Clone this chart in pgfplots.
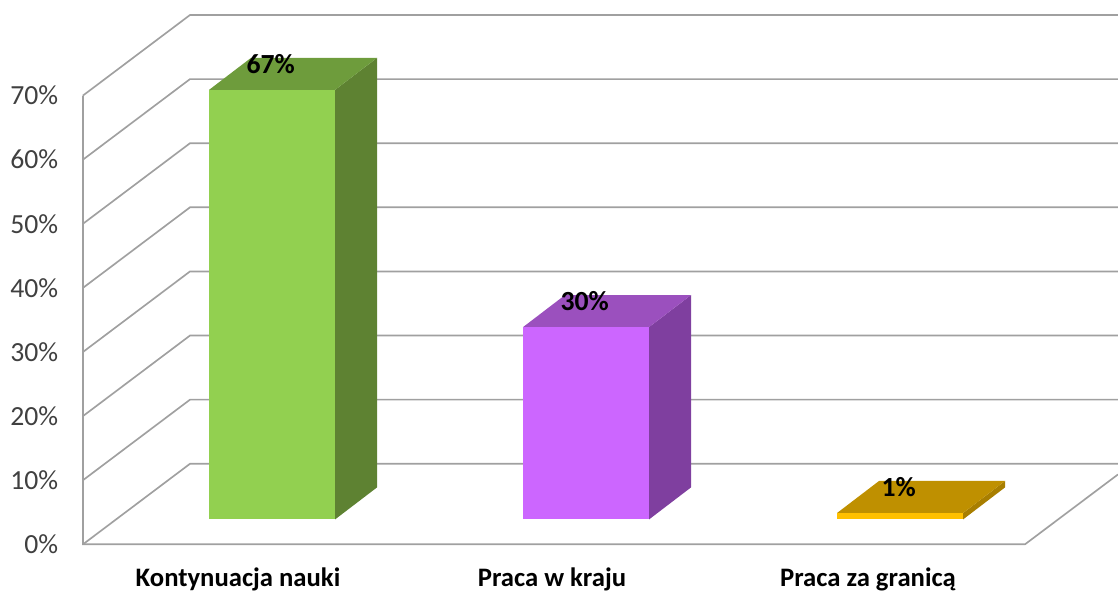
\documentclass[border=0pt]{standalone}
\usepackage{fontspec}
\setmainfont{Carlito}
\usepackage{pgfplots}
\pgfplotsset{compat=1.18}
\definecolor{gridg}{HTML}{A0A0A0}
\definecolor{greenF}{HTML}{92D050}
\definecolor{greenT}{HTML}{6E9C3C}
\definecolor{greenS}{HTML}{5E8232}
\definecolor{purpF}{HTML}{CC66FF}
\definecolor{purpT}{HTML}{9B50BE}
\definecolor{purpS}{HTML}{7F3F9F}
\definecolor{goldF}{HTML}{FFC000}
\definecolor{goldT}{HTML}{BF9000}
\definecolor{goldS}{HTML}{A87E00}
% 1 px of the reference = 0.6pt, x axis runs in px, y axis in percent
\pgfplotsset{
  wall/.style={draw=gridg, line width=1pt, no marks},
  face/.style={fill=#1, draw=none, no marks, yshift=14.9pt},
  front/.style={ybar, bar shift=0pt, bar width=75.6pt, fill=#1, draw=none, yshift=14.9pt,
    nodes near coords={\pgfmathprintnumber[assume math mode=true]{\pgfplotspointmeta}\%},
    every node near coord/.style={anchor=center, xshift=-0.8pt, yshift=15.6pt, black,
      font=\fontsize{16.6}{19}\selectfont\bfseries}},
}
\begin{document}
\begin{tikzpicture}
\useasboundingbox (-49.8pt,-28.62pt) rectangle (621pt,326.58pt);
\begin{axis}[
    scale only axis, width=621pt, height=326.58pt,
    xmin=83, xmax=1118, ymin=0, ymax=84.9,
    clip=false,
    axis line style={draw=none},
    tick style={draw=none},
    xtick={238,552,868},
    xticklabels={Kontynuacja nauki, Praca w kraju, Praca za granicą},
    xticklabel style={font=\fontsize{16}{18}\selectfont\bfseries, black, yshift=-10.6pt},
    ytick={0,10,...,70},
    yticklabel={\pgfmathprintnumber[assume math mode=true]{\tick}\%},
    yticklabel style={font=\fontsize{16.6}{18}\selectfont, color=black!75, xshift=-11.4pt},
]
% walls
\addplot[wall] coordinates {(83,70) (83,0) (1025,0) (1118,10.9)};
\addplot[wall] coordinates {(83,0) (190,12.56) (1118,12.56)};
\addplot[wall] coordinates {(83,10) (190,22.56) (1118,22.56)};
\addplot[wall] coordinates {(83,20) (190,32.56) (1118,32.56)};
\addplot[wall] coordinates {(83,30) (190,42.56) (1118,42.56)};
\addplot[wall] coordinates {(83,40) (190,52.56) (1118,52.56)};
\addplot[wall] coordinates {(83,50) (190,62.56) (1118,62.56)};
\addplot[wall] coordinates {(83,60) (190,72.56) (1118,72.56)};
\addplot[wall] coordinates {(83,70) (190,82.56) (1118,82.56)};
% Kontynuacja nauki
\addplot[face=greenS] coordinates {(335,0) (377,5) (377,72) (335,67)} -- cycle;
\addplot[face=greenT] coordinates {(209,67) (335,67) (377,72) (251,72)} -- cycle;
\addplot[front=greenF] coordinates {(272,67)};
% Praca w kraju
\addplot[face=purpS] coordinates {(649,0) (691,5) (691,35) (649,30)} -- cycle;
\addplot[face=purpT] coordinates {(523,30) (649,30) (691,35) (565,35)} -- cycle;
\addplot[front=purpF] coordinates {(586,30)};
% Praca za granica
\addplot[face=goldS] coordinates {(963,0) (1005,5) (1005,6) (963,1)} -- cycle;
\addplot[face=goldT] coordinates {(837,1) (963,1) (1005,6) (879,6)} -- cycle;
\addplot[front=goldF] coordinates {(900,1)};
\end{axis}
\end{tikzpicture}
\end{document}
